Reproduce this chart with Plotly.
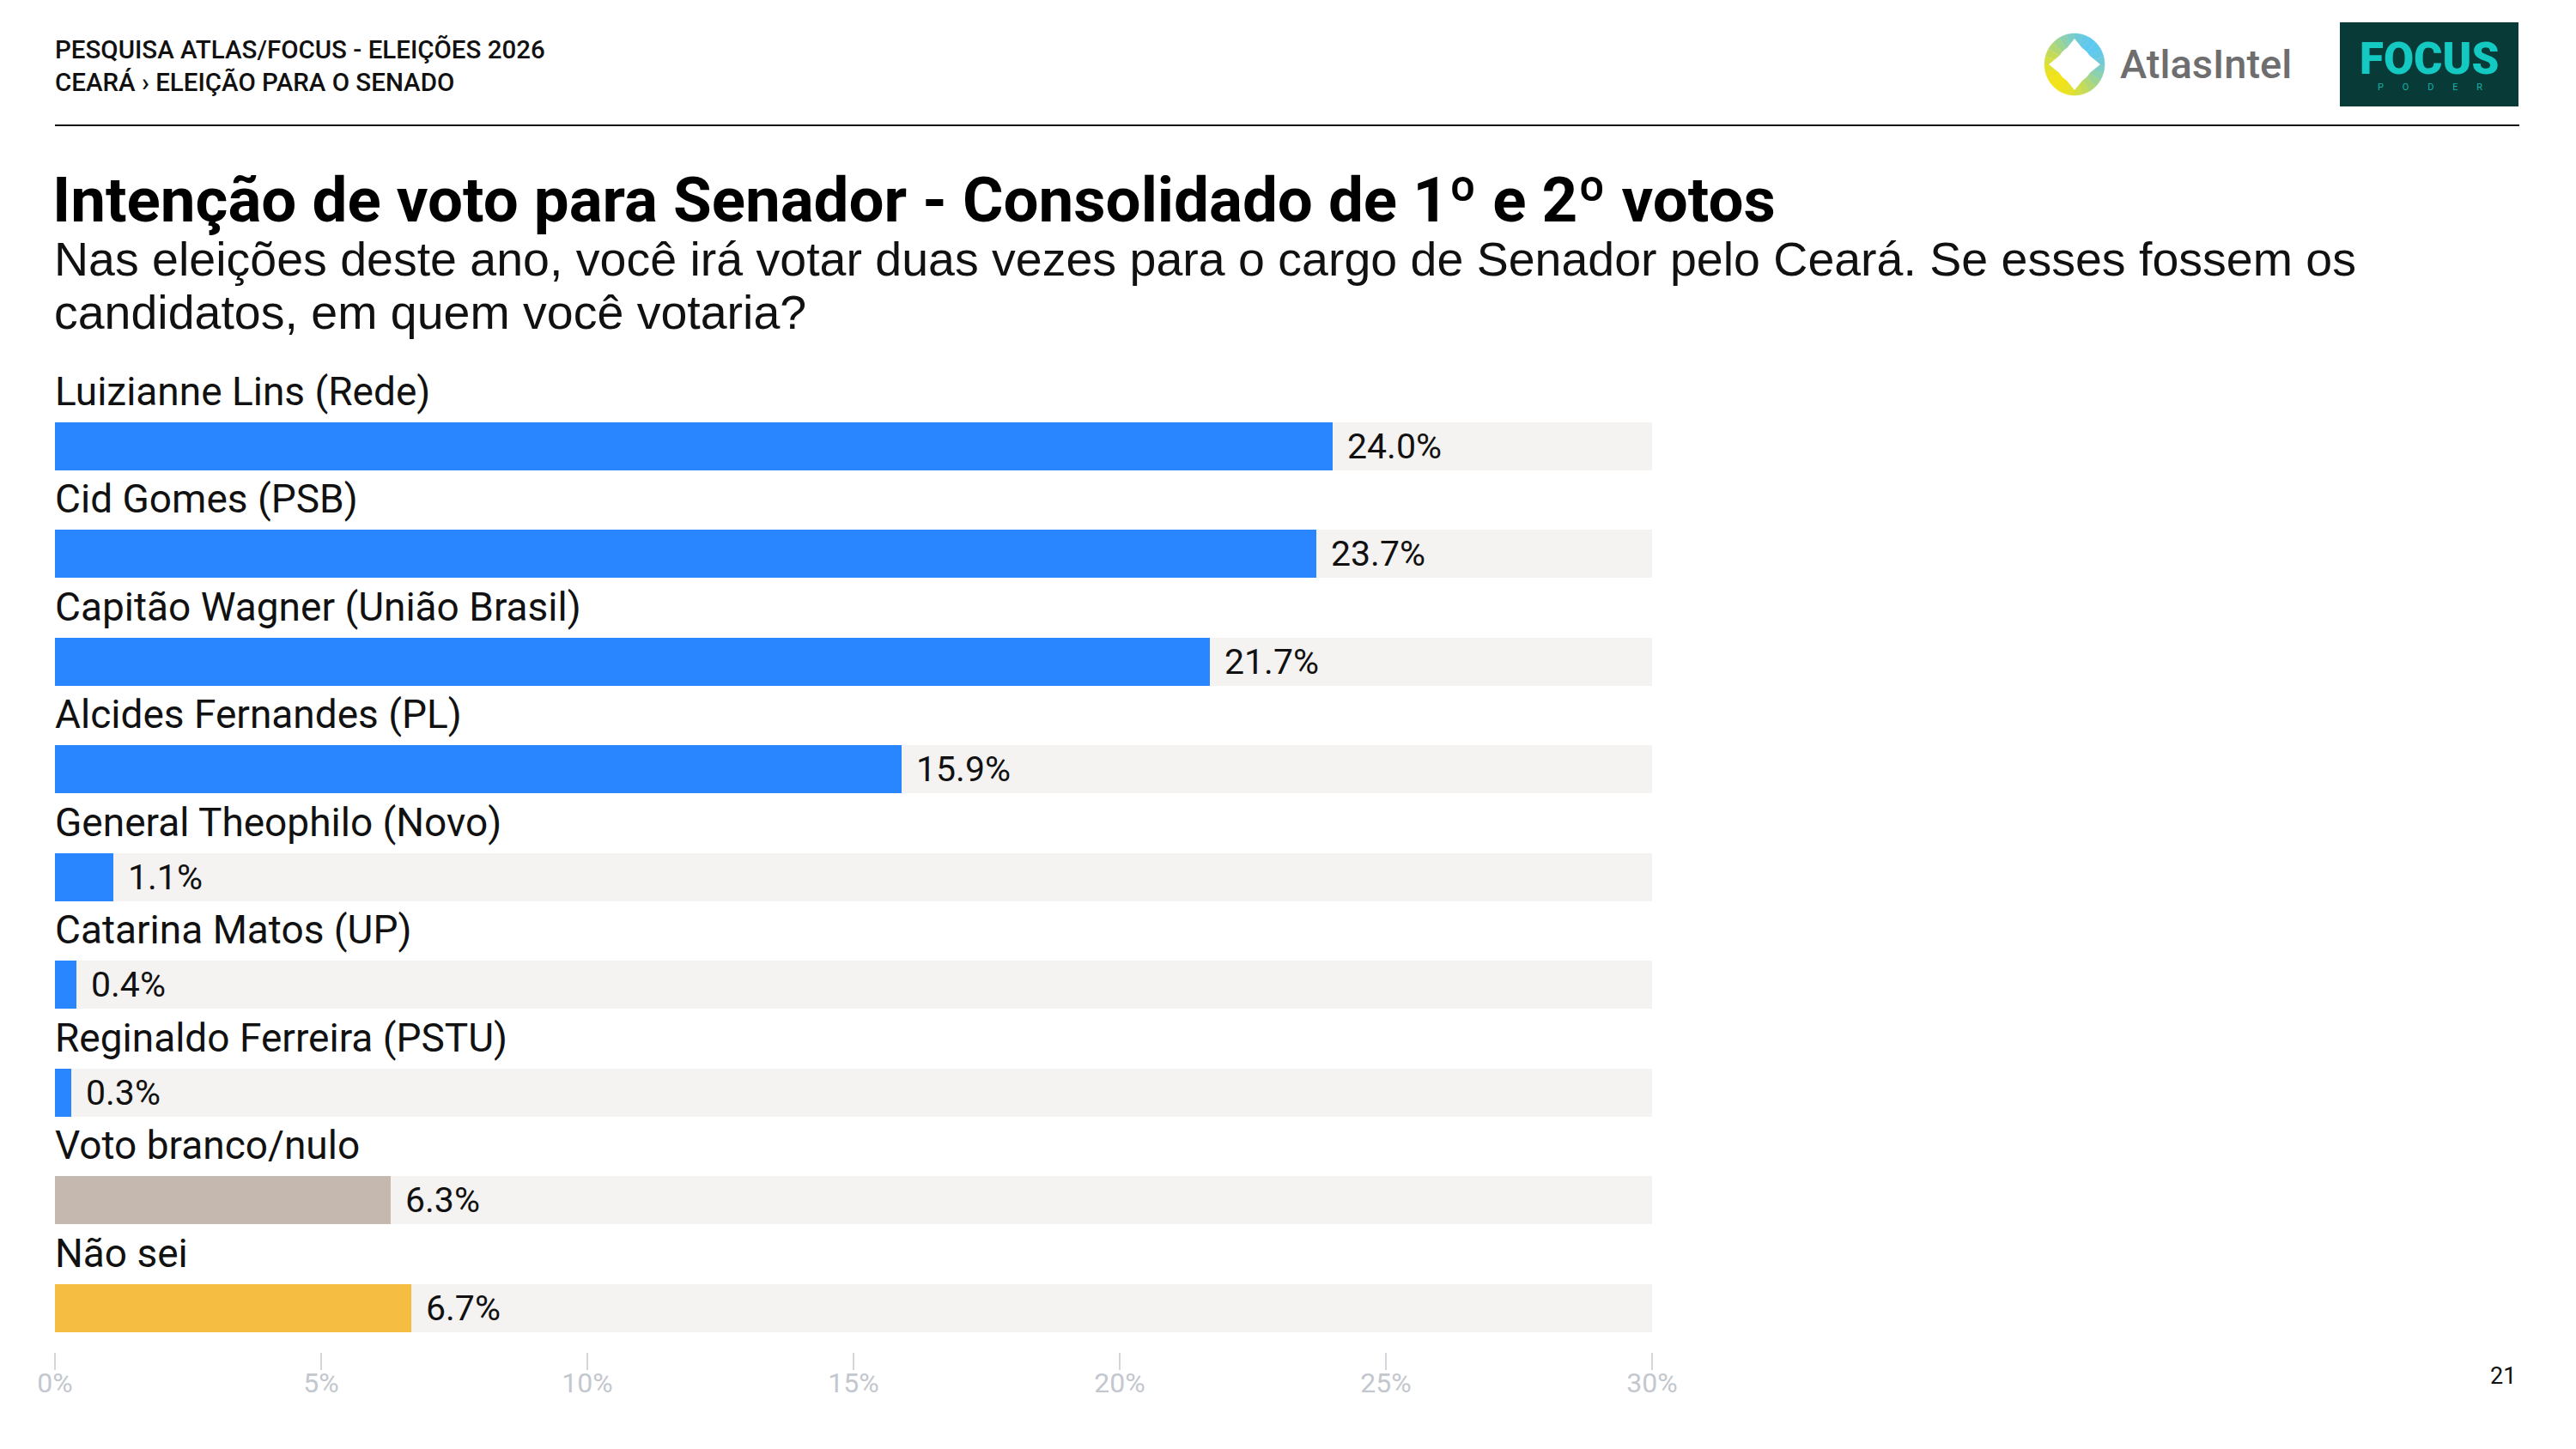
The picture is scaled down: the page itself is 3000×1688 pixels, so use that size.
import math
import plotly.graph_objects as go

# values
candidates = [
    "Luizianne Lins (Rede)",
    "Cid Gomes (PSB)",
    "Capitão Wagner (União Brasil)",
    "Alcides Fernandes (PL)",
    "General Theophilo (Novo)",
    "Catarina Matos (UP)",
    "Reginaldo Ferreira (PSTU)",
    "Voto branco/nulo",
    "Não sei",
]
votes = [24.0, 23.7, 21.7, 15.9, 1.1, 0.4, 0.3, 6.3, 6.7]
axis_ticks = [0, 5, 10, 15, 20, 25, 30]
axis_max = 30

BLUE = "#2A86FF"
GREY = "#C5B8AF"
YELLOW = "#F5BD41"
bar_colors = [BLUE] * 7 + [GREY, YELLOW]

W, H = 3000, 1688
FONT = "Roboto"
NB = "\u00a0"
# the photographed page comes out slightly squeezed sideways, so correct x a bit
X_OFFSET, X_SCALE = 20, 0.983


def px_x(x):
    """
    Convert a slide pixel column to paper coordinates.
    """
    return (x - X_OFFSET) / X_SCALE / W


def px_y(y):
    """
    Convert a slide pixel row (from top) to paper coordinates.
    """
    return 1 - y / H


def text_note(x, y, text, size, color="#111111", anchor="left", weight=400, family=FONT):
    """
    Paper-anchored text placed by slide pixels.
    """
    return dict(x=px_x(x), y=px_y(y), xref="paper", yref="paper", showarrow=False,
                xanchor=anchor, yanchor="middle", text=text,
                font=dict(family=family, size=size, color=color, weight=weight))


positions = list(range(len(candidates)))
labels = [f"{v:.1f}%" for v in votes]

fig = go.Figure()
fig.add_trace(go.Bar(
    x=[axis_max] * len(candidates), y=positions, orientation="h",
    marker=dict(color="#F4F3F1", line=dict(width=0)), width=0.446,
    hoverinfo="skip", showlegend=False,
))
fig.add_trace(go.Bar(
    x=votes, y=positions, orientation="h",
    marker=dict(color=bar_colors, line=dict(width=0)), width=0.446,
    customdata=candidates, hovertemplate="%{customdata}: %{x:.1f}%<extra></extra>",
    showlegend=False,
))

annotations = []
for i, (name, lab, v) in enumerate(zip(candidates, labels, votes)):
    annotations.append(dict(
        x=0, y=i - 0.51, xref="x", yref="y", text=name, showarrow=False,
        xanchor="left", yanchor="middle", xshift=-2,
        font=dict(family=FONT, size=46, color="#111111"),
    ))
    annotations.append(dict(
        x=v, y=i, xref="x", yref="y", text=lab, showarrow=False,
        xanchor="left", yanchor="middle", xshift=15,
        font=dict(family=FONT, size=41, color="#111111"),
    ))

annotations += [
    text_note(61, 57, "PESQUISA ATLAS/FOCUS - ELEIÇÕES 2026", 29.5, weight=500),
    text_note(61, 96, "CEARÁ › ELEIÇÃO PARA O SENADO", 29.5, weight=500),
    text_note(58, 233, "Intenção de voto para Senador - Consolidado de 1º e 2º votos",
              72.7, color="#000000", weight=700),
    text_note(60, 302, "Nas eleições deste ano, você irá votar duas vezes para o cargo "
                       "de Senador pelo Ceará. Se esses fossem os", 55.5,
              family="Liberation Sans"),
    text_note(60, 364, "candidatos, em quem você votaria?", 55.5, family="Liberation Sans"),
    text_note(2931, 1603, "21", 27, anchor="right"),
    # logos
    text_note(2466, 75, "AtlasIntel", 47, color="#6E6E6E", weight=500),
    text_note(2828, 68, "FOCUS", 51, color="#13C9C2", anchor="center", weight=900),
    text_note(2829, 101, (NB * 8).join("PODER"), 11, color="#13B3A8", anchor="center"),
]

shapes = [
    dict(type="line", xref="paper", yref="paper", x0=px_x(63), x1=px_x(2933),
         y0=px_y(146), y1=px_y(146), line=dict(color="#111111", width=2)),
    dict(type="rect", xref="paper", yref="paper", x0=px_x(2724), x1=px_x(2932),
         y0=px_y(26), y1=px_y(124), fillcolor="#083A38", line=dict(width=0)),
]

# AtlasIntel icon: gradient disc made of wedges + white compass star on top
cx, cy, rx, ry = 2415, 75, 35, 36
yel, blu = (242, 228, 24), (95, 200, 240)
n_wedges = 24
for k in range(n_wedges):
    a0 = 2 * math.pi * k / n_wedges
    a1 = 2 * math.pi * (k + 1) / n_wedges
    am = (a0 + a1) / 2
    t = (math.cos(am - math.pi / 4) + 1) / 2
    col = "rgb(%d,%d,%d)" % tuple(int(yel[j] + (blu[j] - yel[j]) * t) for j in range(3))
    pts = [(cx, cy)]
    for s in range(5):
        a = a0 + (a1 - a0) * s / 4
        pts.append((cx + rx * math.cos(a), cy - ry * math.sin(a)))
    path = "M " + " L ".join("%f,%f" % (px_x(x), px_y(y)) for x, y in pts) + " Z"
    shapes.append(dict(type="path", xref="paper", yref="paper", path=path,
                       fillcolor=col, line=dict(width=0.5, color=col)))
star = []
for k in range(8):
    a = math.pi / 2 + k * math.pi / 4
    rad = 30 if k % 2 == 0 else 19
    star.append((cx + rad * math.cos(a), cy - rad * math.sin(a)))
shapes.append(dict(type="path", xref="paper", yref="paper",
                   path="M " + " L ".join("%f,%f" % (px_x(x), px_y(y)) for x, y in star) + " Z",
                   fillcolor="white", line=dict(width=0)))
shapes.append(dict(type="circle", xref="paper", yref="paper",
                   x0=px_x(cx - 20), x1=px_x(cx + 20), y0=px_y(cy + 21), y1=px_y(cy - 21),
                   fillcolor="white", line=dict(width=0)))

# map bar rows onto the slide: row 0 centre at 519.7px, 125.5px per row
row0, step, axis_px = 519.7, 125.5, 1575
y_top = -row0 / step
y_bottom = (axis_px - row0) / step

fig.update_layout(
    width=W, height=H,
    margin=dict(l=0, r=0, t=0, b=0),
    paper_bgcolor="white", plot_bgcolor="white",
    barmode="overlay", bargap=0,
    annotations=annotations, shapes=shapes,
    xaxis=dict(
        domain=[px_x(63), px_x(1923)], range=[0, axis_max],
        tickvals=axis_ticks, ticktext=[f"{t}%" for t in axis_ticks],
        showgrid=False, zeroline=False, showline=False,
        ticks="outside", ticklen=20, tickwidth=2, tickcolor="#D3D6DB",
        tickfont=dict(family=FONT, size=32, color="#C3C7CE"),
        ticklabelstandoff=-12,
        fixedrange=True,
    ),
    yaxis=dict(
        domain=[1 - axis_px / H, 1], range=[y_bottom, y_top],
        visible=False, fixedrange=True,
    ),
)

page_fix = (
    "document.body.style.margin = '0';"
    "document.body.style.overflow = 'hidden';"
    "document.documentElement.style.overflow = 'hidden';"
)
fig.write_html("out.html", config={"displayModeBar": False}, post_script=page_fix)
